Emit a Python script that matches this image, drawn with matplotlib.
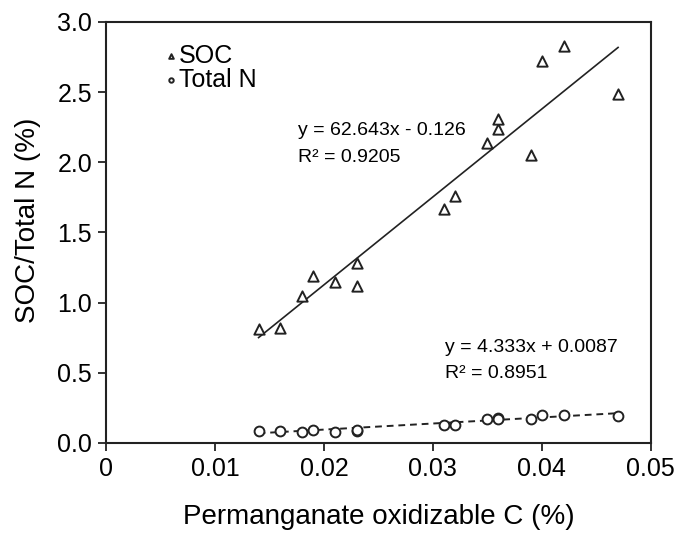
import numpy as np
import matplotlib
matplotlib.use("Agg")
import matplotlib.pyplot as plt

# data
pox_c = [0.014, 0.016, 0.018, 0.019, 0.021, 0.023, 0.023, 0.031,
         0.032, 0.035, 0.036, 0.036, 0.039, 0.040, 0.042, 0.047]
soc = [0.81, 0.82, 1.05, 1.19, 1.15, 1.28, 1.12, 1.67,
       1.76, 2.14, 2.24, 2.31, 2.05, 2.72, 2.83, 2.49]
total_n = [0.088, 0.088, 0.076, 0.093, 0.076, 0.088, 0.090, 0.13,
           0.13, 0.17, 0.18, 0.17, 0.17, 0.20, 0.20, 0.19]

# regression coefficients shown on the chart
soc_fit = (62.643, -0.126)
n_fit = (4.333, 0.0087)
soc_label = "y = 62.643x - 0.126\nR² = 0.9205"
n_label = "y = 4.333x + 0.0087\nR² = 0.8951"

xticks = [0, 0.01, 0.02, 0.03, 0.04, 0.05]
xticklabels = ["0", "0.01", "0.02", "0.03", "0.04", "0.05"]
yticks = [0.0, 0.5, 1.0, 1.5, 2.0, 2.5, 3.0]

plt.rcParams["font.family"] = ["Liberation Sans", "DejaVu Sans"]

ink = "#222222"
fig = plt.figure(figsize=(6.8, 5.35), dpi=100)
ax = fig.add_axes([0.156, 0.172, 0.801, 0.787])

ax.scatter(pox_c, soc, marker="^", s=55, facecolors="white", edgecolors=ink,
           linewidths=1.4, zorder=3, label="SOC")
ax.scatter(pox_c, total_n, marker="o", s=50, facecolors="white", edgecolors=ink,
           linewidths=1.4, zorder=3, label="Total N")

xs = np.array([min(pox_c), max(pox_c)])
ax.plot(xs, np.polyval(soc_fit, xs), color=ink, lw=1.2, zorder=2)
ax.plot(xs, np.polyval(n_fit, xs), color=ink, lw=1.4, ls=(0, (3.5, 2.5)), zorder=2)

ax.text(0.0176, 2.13, soc_label, fontsize=14, linespacing=1.7, va="center")
ax.text(0.0311, 0.59, n_label, fontsize=14, linespacing=1.7, va="center")

ax.set_xlim(0, 0.05)
ax.set_ylim(0, 3.0)
ax.set_xticks(xticks)
ax.set_xticklabels(xticklabels)
ax.set_yticks(yticks)
ax.set_yticklabels([f"{v:.1f}" for v in yticks])
ax.tick_params(direction="out", length=6, width=1.3, labelsize=18, colors=ink,
               labelcolor="black", pad=4)
for sp in ax.spines.values():
    sp.set_linewidth(1.5)
    sp.set_color(ink)

ax.set_xlabel("Permanganate oxidizable C (%)", fontsize=20, labelpad=17)
ax.set_ylabel("SOC/Total N (%)", fontsize=20, labelpad=12, y=0.53)

leg = ax.legend(loc="upper left", bbox_to_anchor=(0.110, 0.9475), frameon=False,
                fontsize=18, markerscale=0.45, handletextpad=0.12, handlelength=0.4,
                labelspacing=0.0, borderaxespad=0.0, borderpad=0.0)

fig.savefig("out.png", dpi=100)
